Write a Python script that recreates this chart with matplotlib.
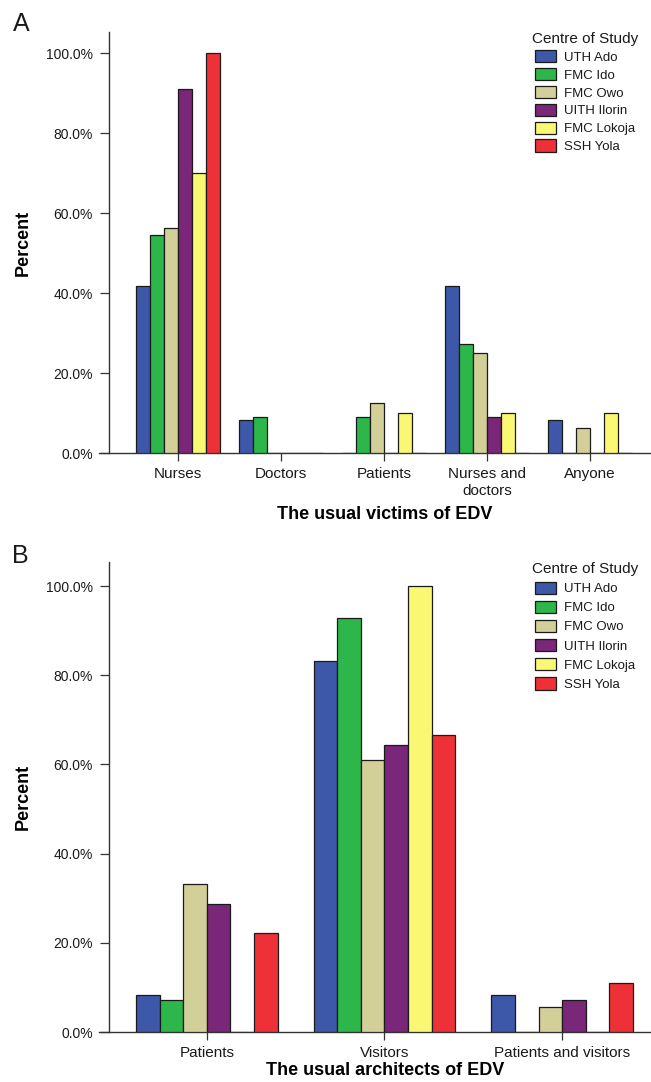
import numpy as np
import matplotlib
matplotlib.use("Agg")
import matplotlib.pyplot as plt

plt.rcParams['font.family'] = ['Liberation Sans', 'DejaVu Sans']
plt.rcParams['text.color'] = '#1a1a1a'

# Data (percent within each centre)
centres = ["UTH Ado", "FMC Ido", "FMC Owo", "UITH Ilorin", "FMC Lokoja", "SSH Yola"]
warna = ["#3d58a8", "#2db64a", "#d3cf99", "#7a2679", "#faf772", "#ee3136"]

victims = ["Nurses", "Doctors", "Patients", "Nurses and\ndoctors", "Anyone"]
victims_uth = [41.7, 8.3, 0.0, 41.7, 8.3]
victims_ido = [54.5, 9.1, 9.1, 27.3, 0.0]
victims_owo = [56.3, 0.0, 12.5, 25.0, 6.25]
victims_ilorin = [90.9, 0.0, 0.0, 9.1, 0.0]
victims_lokoja = [70.0, 0.0, 10.0, 10.0, 10.0]
victims_yola = [100.0, 0.0, 0.0, 0.0, 0.0]

architects = ["Patients", "Visitors", "Patients and visitors"]
arch_uth = [8.3, 83.3, 8.3]
arch_ido = [7.1, 92.9, 0.0]
arch_owo = [33.3, 61.1, 5.6]
arch_ilorin = [28.6, 64.3, 7.1]
arch_lokoja = [0.0, 100.0, 0.0]
arch_yola = [22.2, 66.7, 11.1]

W, H = 651, 1082
fig = plt.figure(figsize=(W / 100, H / 100), dpi=100)

def panel(rect, cats, series, width, xlim, ylim, xlabel, xlab_y, leg_y, leg_space):
    ax = fig.add_axes(rect)
    x = np.arange(len(cats))
    n = len(series)
    for i, vals in enumerate(series):
        off = (i - (n - 1) / 2) * width
        ax.bar(x + off, vals, width, color=warna[i], edgecolor='#1a1a1a',
               linewidth=0.9, label=centres[i], zorder=3)
    ax.set_xlim(*xlim)
    ax.set_ylim(*ylim)
    ax.set_xticks(x)
    ax.set_xticklabels(cats, fontsize=11, linespacing=1.2)
    ax.set_yticks(np.arange(0, 101, 20))
    ax.set_yticklabels(["{:.1f}%".format(v) for v in np.arange(0, 101, 20)], fontsize=11)
    for s in ['top', 'right']:
        ax.spines[s].set_visible(False)
    ax.spines['left'].set_position(('axes', 10 / 552))
    for s in ['left', 'bottom']:
        ax.spines[s].set_color('#333333')
        ax.spines[s].set_linewidth(1.0)
    ax.tick_params(axis='y', length=6.5, width=0.9, pad=5, colors='#333333', labelcolor='#1a1a1a')
    ax.tick_params(axis='x', length=5.8, width=0.9, pad=4.5, colors='#333333', labelcolor='#1a1a1a')
    ax.set_ylabel("Percent", fontsize=13, fontweight='bold')
    ax.yaxis.set_label_coords(-0.121, 0.5)
    ax.set_xlabel(xlabel, fontsize=13, fontweight='bold')
    ax.xaxis.set_label_coords(0.518, xlab_y)
    ax.xaxis.label.set_verticalalignment('center')
    leg = ax.legend(title="Centre of Study", fontsize=9.5, title_fontsize=11,
                    frameon=False, loc='upper left',
                    bbox_to_anchor=(532 / W, 1 - leg_y / H), bbox_transform=fig.transFigure,
                    borderpad=0, handlelength=1.6, handleheight=1.05,
                    handletextpad=0.55, labelspacing=leg_space, borderaxespad=0)
    for p in leg.get_patches():
        p.set_edgecolor('#1a1a1a')
        p.set_linewidth(0.9)
    return ax

panel([99 / W, 1 - 453 / H, 552 / W, 421 / H], victims,
      [victims_uth, victims_ido, victims_owo, victims_ilorin, victims_lokoja, victims_yola],
      0.137, (-0.767, 4.592), (0, 105.25), "The usual victims of EDV", -0.145, 32, 0.32)

panel([99 / W, 1 - 1032 / H, 552 / W, 470 / H], architects,
      [arch_uth, arch_ido, arch_owo, arch_ilorin, arch_lokoja, arch_yola],
      0.1325, (-0.608, 2.501), (0, 105.4), "The usual architects of EDV", -0.082, 562, 0.42)

fig.text(21 / W, 1 - 24 / H, "A", fontsize=18, ha='center', va='center')
fig.text(20 / W, 1 - 556 / H, "B", fontsize=18, ha='center', va='center')

fig.savefig("out.png", dpi=100)
